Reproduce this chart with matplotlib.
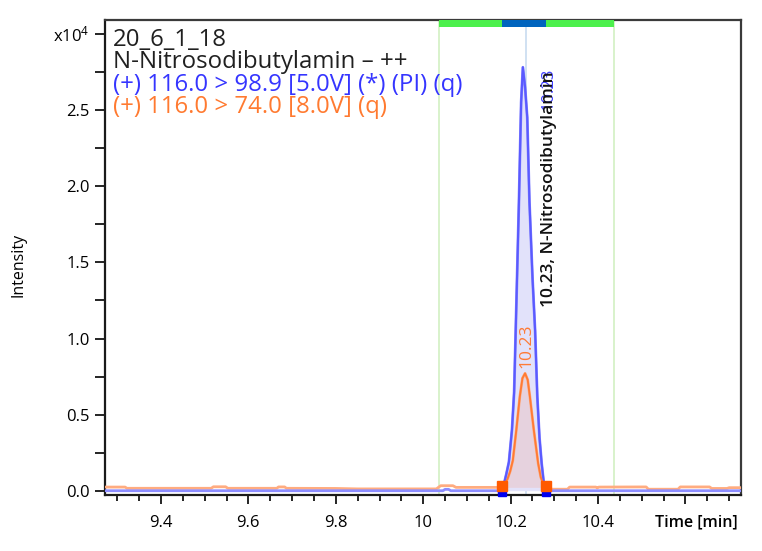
import numpy as np
import matplotlib
matplotlib.use("Agg")
import matplotlib.pyplot as plt

plt.rcParams['font.family'] = ['Open Sans', 'DejaVu Sans']
plt.rcParams['mathtext.default'] = 'regular'

# ---------------- data ----------------
sample_name = "20_6_1_18"
compound_line = "N-Nitrosodibutylamin \u2013 ++"
quant_label = "(+) 116.0 > 98.9 [5.0V] (*) (PI) (q)"
qual_label = "(+) 116.0 > 74.0 [8.0V] (q)"
peak_label = "10.23, N-Nitrosodibutylamin"
peak_rt_text = "10.23"

# quantifier trace (blue): times [min], intensity [counts]
blue_t = [9.27, 10.045, 10.050, 10.058, 10.063, 10.175,
          10.18, 10.185, 10.19, 10.196, 10.203, 10.208, 10.212, 10.219, 10.224,
          10.228, 10.233, 10.238, 10.243, 10.250, 10.256, 10.261, 10.266,
          10.271, 10.276, 10.28, 10.285, 10.73]
blue_y = [20, 20, 110, 110, 20, 20,
          100, 500, 1100, 1900, 4000, 6500, 11000, 19000, 25500,
          27800, 26500, 24500, 19000, 14000, 10500, 6200, 3500,
          1800, 500, 100, 20, 20]

# qualifier trace (orange)
orange_t = [9.27, 9.318, 9.322, 9.515, 9.52, 9.548, 9.553, 9.665, 9.669, 9.683,
            9.687, 9.80, 9.85, 10.03, 10.04, 10.068, 10.075, 10.175,
            10.18, 10.186, 10.193, 10.199, 10.205, 10.213, 10.221, 10.227,
            10.233, 10.239, 10.244, 10.253, 10.263, 10.269, 10.273, 10.28,
            10.285, 10.295, 10.33, 10.335, 10.395, 10.398, 10.402, 10.51,
            10.515, 10.583, 10.588, 10.655, 10.66, 10.695, 10.70, 10.73]
orange_y = [260, 260, 180, 180, 280, 280, 180, 180, 270, 270,
            180, 170, 140, 140, 350, 350, 240, 240,
            260, 450, 800, 1300, 2000, 4000, 6200, 7400,
            7720, 7300, 6200, 4000, 1800, 900, 600, 260,
            240, 120, 120, 260, 260, 200, 260, 270,
            120, 120, 270, 270, 170, 170, 220, 220]

integration_start = 10.18
integration_end = 10.28
window_start = 10.037
window_end = 10.436
peak_rt = 10.236

x_major = [9.4, 9.6, 9.8, 10.0, 10.2, 10.4, 10.6]
x_labels = ["9.4", "9.6", "9.8", "10", "10.2", "10.4", ""]
y_ticks = [0, 2500, 5000, 7500, 10000, 12500, 15000, 17500, 20000, 22500,
           25000, 27500, 30000]
y_labels = ["0.0", "", "0.5", "", "1.0", "", "1.5", "", "2.0", "", "2.5", "",
            "x10$^4$"]

# ---------------- figure ----------------
fig = plt.figure(figsize=(7.62, 5.51), dpi=100)
W, H = 762, 551
ax = fig.add_axes([105 / W, 1 - 495 / H, (741 - 105) / W, (495 - 20) / H])
ax.set_xlim(9.272, 10.727)
ax.set_ylim(-260, 30900)

bt = np.array(blue_t); by = np.array(blue_y)
ot = np.array(orange_t); oy = np.array(orange_y)

# window / peak markers
ax.axvline(window_start, color='#d2f0c2', lw=1.2, zorder=1)
ax.axvline(window_end, color='#d2f0c2', lw=1.2, zorder=1)
ax.axvline(peak_rt, color='#c8dcf0', lw=1.2, zorder=1)
ax.axvspan(window_start, window_end, ymin=1 - 7 / 475, ymax=1, color='#4cf04c',
           lw=0, zorder=3)
ax.axvspan(integration_start, integration_end, ymin=1 - 7 / 475, ymax=1,
           color='#0064be', lw=0, zorder=4)

# peak fills
mb = (bt >= integration_start) & (bt <= integration_end)
mo = (ot >= integration_start) & (ot <= integration_end)
ax.fill_between(bt[mb], 20, by[mb], color='#e2e2fa', lw=0, zorder=2)
ax.fill_between(ot[mo], 240, oy[mo], color='#e8cfd8', alpha=0.8, lw=0, zorder=2)

# full traces
ax.plot(ot, oy, color='#ffac80', lw=2.0, zorder=5)
ax.plot(bt, by, color='#8c8cff', lw=2.0, zorder=5)
# peak outlines
ax.plot(bt[mb], by[mb], color='#5a5aff', lw=1.5, zorder=6)
ax.plot(ot[mo], oy[mo], color='#ff7a35', lw=1.3, zorder=6)

# integration markers
for t in (integration_start, integration_end):
    ax.plot([t], [-60], marker='s', ms=6, color='#0000f0', zorder=7, clip_on=False)
    ax.plot([t], [300], marker='s', ms=7, color='#ff5a00', zorder=8)

# labels on peak
ax.text(10.287, 27800, peak_rt_text, rotation=90, color='#4040ff',
        fontsize=12, ha='center', va='top', zorder=9)
ax.text(10.287, 12070, peak_label, rotation=90, color='#111111',
        fontsize=12.5, fontweight='semibold', ha='center', va='bottom', zorder=10)
ax.text(peak_rt, 8100, peak_rt_text, rotation=90, color='#ff7a35',
        fontsize=12.5, ha='center', va='bottom', zorder=9)

# header text
tx = 113 / W
fs = 17.3
fig.text(tx, 1 - 46 / H, sample_name, fontsize=fs, color='#202020', va='baseline')
fig.text(tx, 1 - 68 / H, compound_line, fontsize=fs, color='#202020', va='baseline')
fig.text(tx, 1 - 91 / H, quant_label, fontsize=fs, color='#3535ff', va='baseline')
fig.text(tx, 1 - 113 / H, qual_label, fontsize=fs, color='#ff7a30', va='baseline')

# axes styling
for s in ('left', 'bottom'):
    ax.spines[s].set_linewidth(1.6)
    ax.spines[s].set_color('#1a1a1a')
for s in ('top', 'right'):
    ax.spines[s].set_linewidth(1.6)
    ax.spines[s].set_color('#3a3a3a')

ax.set_xticks(x_major)
ax.set_xticklabels(x_labels)
ax.set_xticks(np.arange(9.3, 10.73, 0.05), minor=True)
ax.tick_params(axis='x', which='major', length=6.5, width=1.2, labelsize=12,
               pad=8, direction='out')
ax.tick_params(axis='x', which='minor', length=4, width=1.2, direction='out')
ax.set_yticks(y_ticks)
ax.set_yticklabels(y_labels)
ax.tick_params(axis='y', which='major', length=7, width=1.2, labelsize=12,
               pad=4, direction='out')

fig.text(18 / W, 1 - 265 / H, "Intensity", rotation=90, fontsize=11.5,
         ha='center', va='center')
fig.text(738 / W, 1 - 522 / H, "Time [min]", fontsize=11.5, fontweight='semibold',
         ha='right', va='center')

fig.savefig("out.png", dpi=100)
